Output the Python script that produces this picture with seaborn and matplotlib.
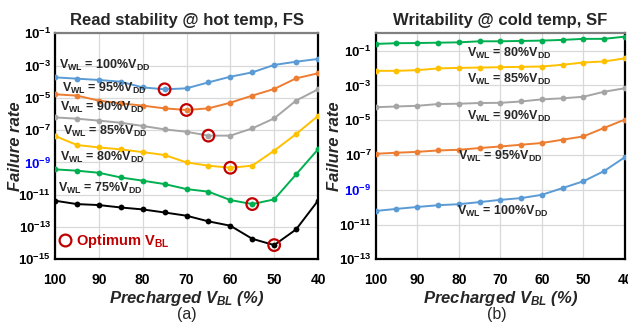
import numpy as np
import pandas as pd
import matplotlib
matplotlib.use("Agg")
import matplotlib.pyplot as plt
import seaborn as sns
from matplotlib.lines import Line2D

sns.set_theme(style="white")
plt.rcParams["font.family"] = ["Liberation Sans", "DejaVu Sans"]
plt.rcParams["mathtext.fontset"] = "custom"
plt.rcParams["mathtext.rm"] = "Liberation Sans"
plt.rcParams["mathtext.bf"] = "Liberation Sans:bold"
plt.rcParams["mathtext.it"] = "Liberation Sans:italic"
plt.rcParams["mathtext.bfit"] = "Liberation Sans:italic:bold"

# ---------------- data ----------------
vbl = [100, 95, 90, 85, 80, 75, 70, 65, 60, 55, 50, 45, 40]
wl_levels = ["100%", "95%", "90%", "85%", "80%", "75%"]

# log10(failure rate), read stability @ hot temp, FS
read_100 = [-3.73, -3.81, -3.89, -4.00, -4.35, -4.47, -4.41, -4.04, -3.69, -3.42, -2.96, -2.76, -2.59]
read_95 = [-4.78, -4.86, -5.17, -5.34, -5.48, -5.65, -5.75, -5.65, -5.30, -4.86, -4.45, -3.79, -3.48]
read_90 = [-6.21, -6.29, -6.41, -6.54, -6.74, -6.95, -7.10, -7.34, -7.34, -6.89, -6.27, -5.17, -4.47]
read_85 = [-7.36, -7.92, -8.07, -8.19, -8.36, -8.54, -9.00, -9.20, -9.33, -9.20, -8.27, -7.24, -6.12]
read_80 = [-9.43, -9.51, -9.64, -9.93, -10.13, -10.34, -10.65, -10.81, -11.33, -11.58, -11.29, -9.74, -8.19]
read_75 = [-11.37, -11.58, -11.64, -11.79, -11.91, -12.10, -12.30, -12.65, -12.92, -13.73, -14.12, -13.15, -11.37]
read_opt_vbl = [75, 70, 65, 60, 55, 50]

# log10(failure rate), writability @ cold temp, SF
write_80 = [-0.61, -0.57, -0.56, -0.54, -0.52, -0.46, -0.46, -0.44, -0.42, -0.38, -0.32, -0.32, -0.19]
write_85 = [-2.16, -2.16, -2.12, -2.02, -1.99, -1.97, -1.95, -1.93, -1.91, -1.81, -1.68, -1.62, -1.44]
write_90 = [-4.25, -4.21, -4.17, -4.07, -4.05, -4.01, -4.00, -3.92, -3.80, -3.74, -3.65, -3.36, -3.16]
write_95 = [-6.93, -6.87, -6.82, -6.74, -6.70, -6.60, -6.51, -6.41, -6.31, -6.12, -5.93, -5.44, -4.96]
write_100 = [-10.22, -10.10, -9.99, -9.89, -9.83, -9.71, -9.58, -9.48, -9.29, -8.90, -8.51, -7.92, -7.12]

x_ticks = [100, 90, 80, 70, 60, 50, 40]
left_yexp = [-1, -3, -5, -7, -9, -11, -13, -15]
right_yexp = [-1, -3, -5, -7, -9, -11, -13]

colors = {"100%": "#5B9BD5", "95%": "#ED7D31", "90%": "#A5A5A5",
          "85%": "#FFC000", "80%": "#00B050", "75%": "#000000"}
opt_color = "#C00000"
blue_tick = "#0000FF"

read_series = {"100%": read_100, "95%": read_95, "90%": read_90,
               "85%": read_85, "80%": read_80, "75%": read_75}
write_series = {"80%": write_80, "85%": write_85, "90%": write_90,
                "95%": write_95, "100%": write_100}

# ---------------- figure ----------------
fig = plt.figure(figsize=(6.28, 3.27), dpi=100)
axL = fig.add_axes([55 / 628, 1 - 259.3 / 327, 263 / 628, 226 / 327])
axR = fig.add_axes([375.7 / 628, 1 - 259.3 / 327, 249.3 / 628, 226 / 327])


def draw(ax, series):
    for lvl, vals in series.items():
        df = pd.DataFrame({"vbl": vbl, "fr": np.power(10.0, vals)})
        sns.lineplot(data=df, x="vbl", y="fr", ax=ax, color=colors[lvl],
                     marker="o", markersize=4.2, markeredgewidth=0,
                     linewidth=1.4, zorder=3)


draw(axL, read_series)
draw(axR, write_series)

# optimum points
opt_x, opt_y = [], []
for lvl, xv in zip(wl_levels, read_opt_vbl):
    opt_x.append(xv)
    opt_y.append(10.0 ** read_series[lvl][vbl.index(xv)])
sns.scatterplot(x=opt_x, y=opt_y, ax=axL, s=70, facecolor="none",
                edgecolor=opt_color, linewidth=1.6, zorder=5)


def style(ax, yexp, ylim):
    ax.set_yscale("log")
    ax.set_xlim(100, 40)
    ax.set_ylim(*ylim)
    ax.set_xticks(x_ticks)
    ax.set_xticklabels([str(v) for v in x_ticks], fontsize=10, fontweight="bold")
    ax.set_yticks([10.0 ** e for e in yexp])
    ax.set_yticks([], minor=True)
    ax.set_yticklabels([r"$\mathbf{10^{%d}}$" % e for e in yexp], fontsize=9.5)
    ax.tick_params(axis="both", length=0, colors="black")
    ax.tick_params(axis="x", pad=10)
    ax.tick_params(axis="y", pad=3)
    for lab, e in zip(ax.get_yticklabels(), yexp):
        lab.set_color(blue_tick if e == -9 else "black")
    ax.grid(True, color="#D9D9D9", linewidth=0.9, zorder=0)
    for s in ["left", "bottom", "right"]:
        ax.spines[s].set_color("black")
        ax.spines[s].set_linewidth(1.6)
    ax.spines["top"].set_color("#808080")
    ax.spines["top"].set_linewidth(1.6)
    ax.set_xlabel(r"Precharged $\mathbfit{V_{BL}}$ (%)", fontsize=12,
                  fontweight="bold", fontstyle="italic")
    ax.set_ylabel("Failure rate", fontsize=12, fontweight="bold", fontstyle="italic")
    ax.xaxis.set_label_coords(0.5, -0.13)


style(axL, left_yexp, (1e-15, 1e-1))
style(axR, right_yexp, (1e-13, 1e0))
axL.yaxis.set_label_coords(-0.122, 0.5)
axR.yaxis.set_label_coords(-0.135, 0.5)

axL.set_title("Read stability @ hot temp, FS", fontsize=12, fontweight="bold", pad=6)
axR.set_title("Writability @ cold temp, SF", fontsize=12, fontweight="bold", pad=6)


def wl_label(lvl):
    return r"$\mathbf{V_{WL}}$ = " + lvl + r"$\mathbf{V_{DD}}$"


left_lab_pos = {"100%": (99.1, -3.21), "95%": (98.4, -4.64), "90%": (98.9, -5.81),
                "85%": (98.2, -7.30), "80%": (98.9, -8.89), "75%": (99.3, -10.85)}
for lvl, (xx, ee) in left_lab_pos.items():
    axL.text(xx, 10.0 ** ee, wl_label(lvl), fontsize=9, fontweight="bold",
             ha="left", va="baseline", zorder=6)

right_lab_pos = {"80%": (78.1, -1.35), "85%": (78.1, -2.87), "90%": (78.1, -4.99),
                 "95%": (80.1, -7.30), "100%": (80.5, -10.44)}
for lvl, (xx, ee) in right_lab_pos.items():
    axR.text(xx, 10.0 ** ee, wl_label(lvl), fontsize=9, fontweight="bold",
             ha="left", va="baseline", zorder=6)

# legend for optimum marker
h = Line2D([], [], linestyle="none", marker="o", markersize=8.5,
           markerfacecolor="none", markeredgecolor=opt_color, markeredgewidth=1.6)
leg = axL.legend([h], [r"Optimum $\mathbf{V_{BL}}$"], loc="center left",
                 bbox_to_anchor=(-0.033, 0.08), frameon=False, handlelength=0.8,
                 handletextpad=0.35, prop={"size": 10.5, "weight": "bold"})
for t in leg.get_texts():
    t.set_color(opt_color)

fig.text(187 / 628, 1 - 314 / 327, "(a)", fontsize=11.5, ha="center", va="center")
fig.text(497 / 628, 1 - 314 / 327, "(b)", fontsize=11.5, ha="center", va="center")

fig.savefig("out.png", dpi=100)
